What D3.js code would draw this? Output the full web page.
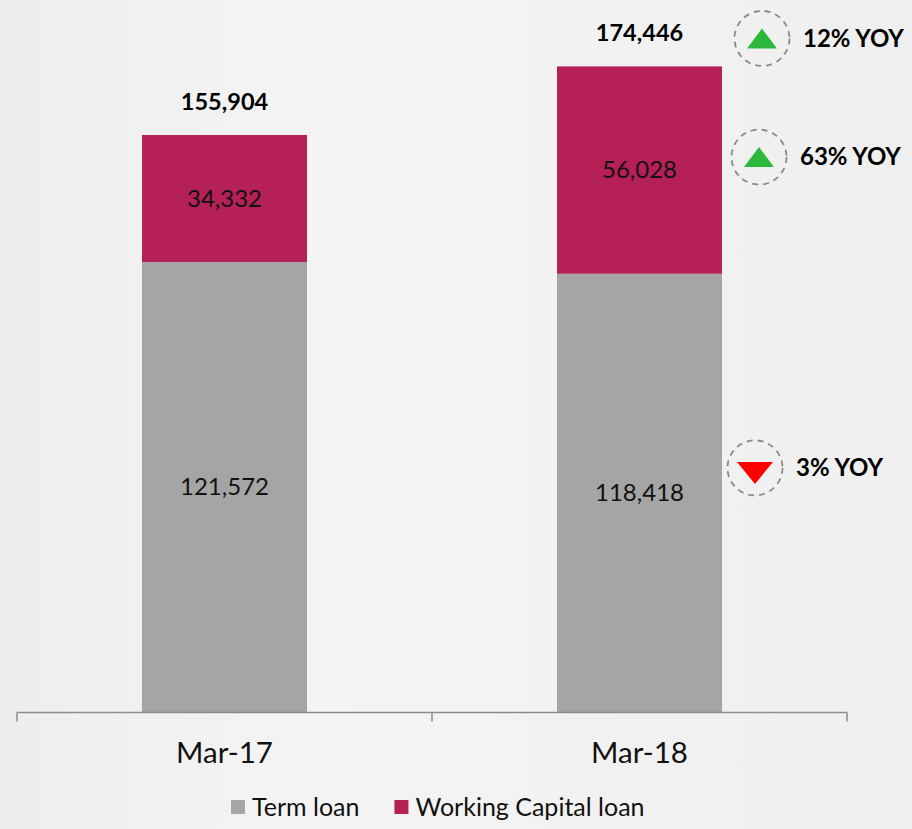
<!DOCTYPE html>
<html><head><meta charset="utf-8">
<script src="https://cdn.jsdelivr.net/npm/d3@7"></script>
<style>html,body{margin:0;padding:0;background:#f1f1f1;}svg{display:block;}</style>
</head><body>
<script>
const categories = ["Mar-17", "Mar-18"];
const termLoan = [121572, 118418];
const workingCapital = [34332, 56028];
const totals = [155904, 174446];
const seriesNames = ["Term loan", "Working Capital loan"];
const yoyLabels = ["12% YOY", "63% YOY", "3% YOY"];
const yoyDirection = ["up", "up", "down"];

const W = 912, H = 829;
const colors = {term: "#a5a5a5", wc: "#b52056"};
const font = "Lato, 'Open Sans', sans-serif";

const svg = d3.select("body").append("svg").attr("width", W).attr("height", H);
const defs = svg.append("defs");
const grad = defs.append("linearGradient").attr("id", "bg").attr("x1", "0").attr("x2", "1").attr("y1", "0").attr("y2", "0");
grad.append("stop").attr("offset", "0").attr("stop-color", "#eeeeee");
grad.append("stop").attr("offset", "0.35").attr("stop-color", "#f4f4f4");
grad.append("stop").attr("offset", "1").attr("stop-color", "#efefef");
svg.append("rect").attr("width", W).attr("height", H).attr("fill", "url(#bg)");

const x = d3.scaleBand().domain(categories).range([17, 847]).paddingInner(0.6024).paddingOuter(0.3012);
const y = d3.scaleLinear().domain([0, 174446]).range([712, 66.4]);

const data = categories.map((c, i) => ({c, term: termLoan[i], wc: workingCapital[i], total: totals[i]}));
const stack = d3.stack().keys(["term", "wc"])(data);

stack.forEach(layer => {
  svg.append("g").selectAll("rect").data(layer).join("rect")
    .attr("x", d => x(d.data.c))
    .attr("width", x.bandwidth())
    .attr("y", d => y(d[1]))
    .attr("height", d => y(d[0]) - y(d[1]))
    .attr("fill", colors[layer.key]);
  svg.append("g").selectAll("text").data(layer).join("text")
    .attr("x", d => x(d.data.c) + x.bandwidth() / 2)
    .attr("y", d => (y(d[0]) + y(d[1])) / 2)
    .attr("dy", "0.35em")
    .attr("text-anchor", "middle")
    .attr("font-family", font).attr("font-size", 24).attr("fill", "#111")
    .text(d => d3.format(",")(d[1] - d[0]));
});

svg.append("g").selectAll("text").data(data).join("text")
  .attr("x", d => x(d.c) + x.bandwidth() / 2)
  .attr("y", d => y(d.total) - 25)
  .attr("text-anchor", "middle")
  .attr("font-family", font).attr("font-size", 23.5).attr("font-weight", "bold").attr("fill", "#000")
  .text(d => d3.format(",")(d.total));

// axis
const axisG = svg.append("g").attr("transform", "translate(0,712.5)");
axisG.append("line").attr("x1", 17).attr("x2", 847).attr("stroke", "#8c8c8c").attr("stroke-width", 1.5);
const tickXs = [17, 17 + x.step(), 847];
axisG.selectAll("line.t").data(tickXs).join("line").attr("class", "t")
  .attr("x1", d => d).attr("x2", d => d).attr("y1", 0).attr("y2", 9)
  .attr("stroke", "#8c8c8c").attr("stroke-width", 1.5);
axisG.selectAll("text").data(categories).join("text")
  .attr("x", d => x(d) + x.bandwidth() / 2)
  .attr("y", 50)
  .attr("text-anchor", "middle")
  .attr("font-family", font).attr("font-size", 29.5).attr("fill", "#111")
  .text(d => d);

// YOY annotations
const last = data[1];
const annY = [
  y(last.total) - 28,
  (y(last.term) + y(last.total)) / 2 - 13,
  (y(0) + y(last.term)) / 2 - 25
];
const annCx = [762, 759, 755];
yoyLabels.forEach((lab, i) => {
  const g = svg.append("g").attr("transform", `translate(${annCx[i]},${annY[i]})`);
  g.append("circle").attr("r", 27.5).attr("fill", "none").attr("stroke", "#8a8a8a")
    .attr("stroke-width", 1.8).attr("stroke-dasharray", "6,5");
  if (yoyDirection[i] === "up") {
    g.append("path").attr("d", "M0,-10 L15,10 L-15,10 Z").attr("fill", "#2db83d");
  } else {
    g.append("path").attr("d", "M-18,-6 L18,-6 L0,16 Z").attr("fill", "#ff0000");
  }
  g.append("text").attr("x", 41).attr("y", 0).attr("dy", "0.35em")
    .attr("font-family", font).attr("font-size", 24).attr("font-weight", "bold").attr("fill", "#000")
    .text(lab);
});

// legend
const legend = svg.append("g").attr("transform", "translate(231,807)");
let lx = 0;
[{name: seriesNames[0], color: colors.term}, {name: seriesNames[1], color: colors.wc}].forEach(it => {
  legend.append("rect").attr("x", lx).attr("y", -7).attr("width", 14).attr("height", 14).attr("fill", it.color);
  const t = legend.append("text").attr("x", lx + 21).attr("y", 0).attr("dy", "0.35em")
    .attr("font-family", font).attr("font-size", 25).attr("fill", "#111").text(it.name);
  lx += 21 + t.node().getComputedTextLength() + 35;
});
</script>
</body></html>
